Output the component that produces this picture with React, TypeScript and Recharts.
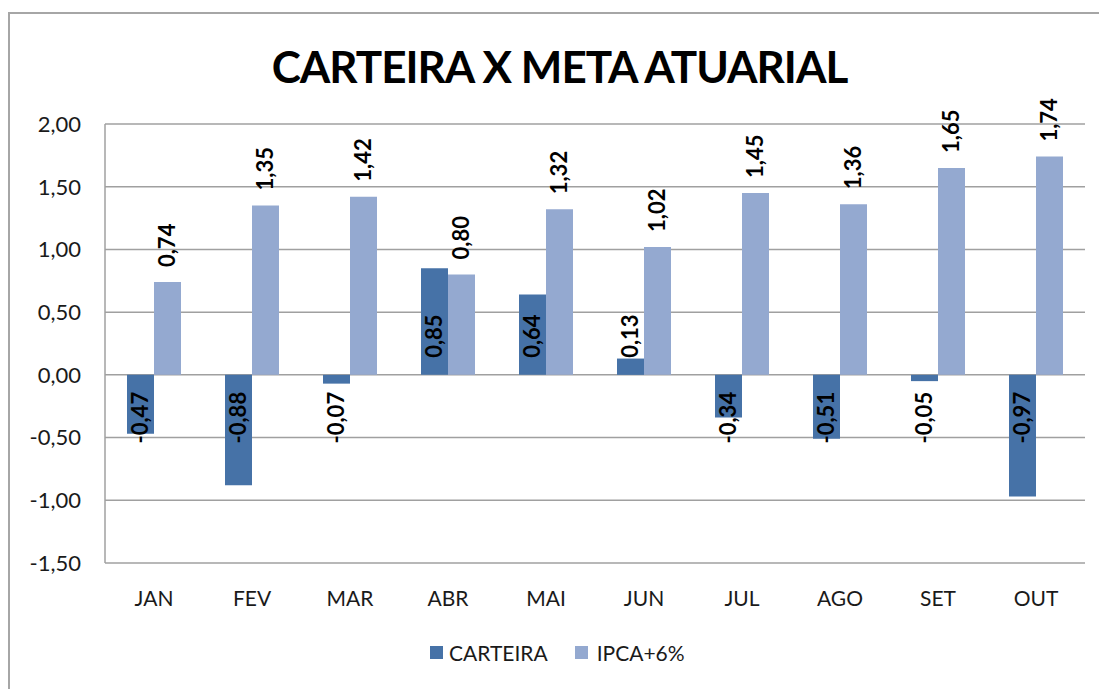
import { BarChart, Bar, XAxis, YAxis, CartesianGrid, LabelList } from 'recharts'

const meses = ['JAN', 'FEV', 'MAR', 'ABR', 'MAI', 'JUN', 'JUL', 'AGO', 'SET', 'OUT']
const carteira = [-0.47, -0.88, -0.07, 0.85, 0.64, 0.13, -0.34, -0.51, -0.05, -0.97]
const ipca = [0.74, 1.35, 1.42, 0.8, 1.32, 1.02, 1.45, 1.36, 1.65, 1.74]
const yTicks = [-1.5, -1, -0.5, 0, 0.5, 1, 1.5, 2]

const CARTEIRA_COR = '#4672A7'
const IPCA_COR = '#94A9D0'
const FONT = 'Lato, "Open Sans", sans-serif'

const fmt = (v: number) => v.toFixed(2).replace('.', ',')

const data = meses.map((m, i) => ({ mes: m, carteira: carteira[i], ipca: ipca[i] }))

// rotulo "inside base" (Excel) para a carteira
function BaseLabel(props: any) {
  const { x, y, width, height, value } = props
  const cx = x + width / 2
  const v = Number(value)
  const zeroY = v >= 0 ? Math.max(y, y + height) : Math.min(y, y + height)
  const ty = v >= 0 ? zeroY - 17 : zeroY + 17
  return (
    <text
      x={cx}
      y={ty}
      transform={`rotate(-90 ${cx} ${ty})`}
      textAnchor={v >= 0 ? 'start' : 'end'}
      dy="0.36em"
      fontFamily={FONT}
      fontWeight={700}
      fontSize={22}
      fill="#000"
    >
      {fmt(v)}
    </text>
  )
}

// rotulo "outside end" para o IPCA+6%
function TopLabel(props: any) {
  const { x, y, width, height, value } = props
  const cx = x + width / 2
  const top = Math.min(y, y + height)
  const ty = top - 15
  return (
    <text
      x={cx}
      y={ty}
      transform={`rotate(-90 ${cx} ${ty})`}
      textAnchor="start"
      dy="0.36em"
      fontFamily={FONT}
      fontWeight={700}
      fontSize={22}
      fill="#000"
    >
      {fmt(Number(value))}
    </text>
  )
}

export default function App() {
  return (
    <div style={{ position: 'relative', width: 1099, height: 681, overflow: 'visible' }}>
      <div
        style={{
          position: 'absolute',
          left: 0,
          top: 4,
          width: 1099,
          height: 677,
          borderLeft: '2px solid #a6a6a6',
          borderTop: '2px solid #a6a6a6',
          boxSizing: 'border-box',
        }}
      />
      <div
        style={{
          position: 'absolute',
          left: -8,
          top: 30,
          width: 1119,
          textAlign: 'center',
          fontFamily: FONT,
          fontWeight: 700,
          fontSize: 44,
          letterSpacing: -1,
          color: '#000',
          lineHeight: '56px',
        }}
      >
        CARTEIRA X META ATUARIAL
      </div>
      <div style={{ position: 'absolute', left: -8, top: -8 }}>
        <BarChart
          width={1107}
          height={689}
          data={data}
          margin={{ top: 124, right: 22, bottom: 76, left: 25 }}
          barGap={0}
        >
          <CartesianGrid vertical={false} stroke="#a0a0a0" strokeWidth={1.5} />
          <XAxis
            dataKey="mes"
            axisLine={false}
            tickLine={false}
            height={50}
            tickMargin={22}
            tick={{ fill: '#1a1a1a', fontSize: 21, fontFamily: FONT }}
          />
          <YAxis
            domain={[-1.5, 2]}
            ticks={yTicks}
            tickFormatter={(v) => fmt(Number(v))}
            axisLine={{ stroke: '#a0a0a0', strokeWidth: 1.5 }}
            tickLine={false}
            tickMargin={18}
            width={80}
            tick={{ fill: '#1a1a1a', fontSize: 22, fontFamily: FONT }}
            interval={0}
          />
          <Bar dataKey="carteira" name="CARTEIRA" fill={CARTEIRA_COR} barSize={27} isAnimationActive={false}>
            <LabelList dataKey="carteira" content={BaseLabel} />
          </Bar>
          <Bar dataKey="ipca" name="IPCA+6%" fill={IPCA_COR} barSize={27} isAnimationActive={false}>
            <LabelList dataKey="ipca" content={TopLabel} />
          </Bar>
        </BarChart>
      </div>
      <div
        style={{
          position: 'absolute',
          left: 422,
          top: 632,
          display: 'flex',
          alignItems: 'center',
          fontFamily: FONT,
          fontSize: 21,
          color: '#1a1a1a',
        }}
      >
        <span style={{ width: 13, height: 13, background: CARTEIRA_COR, display: 'inline-block', marginRight: 6 }} />
        <span style={{ marginRight: 27 }}>CARTEIRA</span>
        <span style={{ width: 13, height: 13, background: IPCA_COR, display: 'inline-block', marginRight: 9 }} />
        <span>IPCA+6%</span>
      </div>
    </div>
  )
}
